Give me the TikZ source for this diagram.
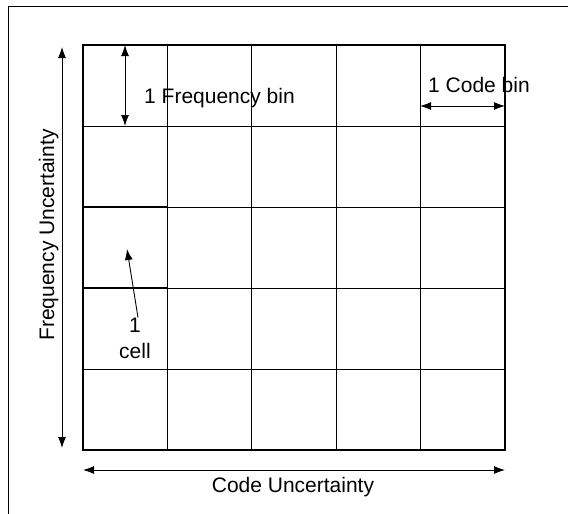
\documentclass[tikz,border=0pt]{standalone}
\usepackage{fontspec}
\setmainfont{Liberation Sans}
\usetikzlibrary{arrows.meta}

\begin{document}
\begin{tikzpicture}[x=1pt,y=-1pt,
	dim/.style={{Latex[length=11pt,width=8pt]}-{Latex[length=11pt,width=8pt]}, line width=0.9pt},
	pointer/.style={-{Latex[length=11pt,width=8pt]}, line width=0.9pt},
	lbl/.style={font=\fontsize{21}{26}\selectfont, inner sep=0pt},
	thinline/.style={line width=0.8pt},
	thickline/.style={line width=1.8pt},
	]
	\useasboundingbox (0,0) rectangle (568,514);
	% frame, only left and top edges are left
	\draw[line width=0.9pt] (568,6) -- (8,6) -- (8,514);

	% the grid of cells
	\foreach \i in {1,...,4} {
		\draw[thinline] (83+84.4*\i,45) -- (83+84.4*\i,450);
		\draw[thinline] (83,45+81*\i) -- (505,45+81*\i);
	}
	\draw[thickline] (83,45) rectangle (505,450);
	\draw[thickline] (83,207) rectangle (167.4,288);

	% ends of the dimension arrows
	\coordinate (fbTop) at (125,45);
	\coordinate (fbBot) at (125,126);
	\coordinate (cbLeft) at (420,106);
	\coordinate (cbRight) at (505,106);
	\coordinate (fuTop) at (62,47);
	\coordinate (fuBot) at (62,448);
	\coordinate (cuLeft) at (83,470);
	\coordinate (cuRight) at (505,470);
	\coordinate (cellPt) at (127,249);

	\draw[dim] (fbTop) -- (fbBot);
	\draw[dim] (cbLeft) -- (cbRight);
	\draw[dim] (fuTop) -- (fuBot);
	\draw[dim] (cuLeft) -- (cuRight);

	% labels
	\node[lbl, anchor=base west] (fbLabel) at (144,103) {1 Frequency bin};
	\node[lbl, anchor=base west] (cbLabel) at (428,92) {1 Code bin};
	\node[lbl, anchor=base] (cuLabel) at (293,492) {Code Uncertainty};
	\node[lbl, anchor=base, rotate=90] (fuLabel) at (54,235) {Frequency Uncertainty};
	\node[lbl, align=center] (cellLabel) at (135,338) {1\\cell};

	\draw[pointer] ([xshift=3pt]cellLabel.north) -- (cellPt);
\end{tikzpicture}
\end{document}
